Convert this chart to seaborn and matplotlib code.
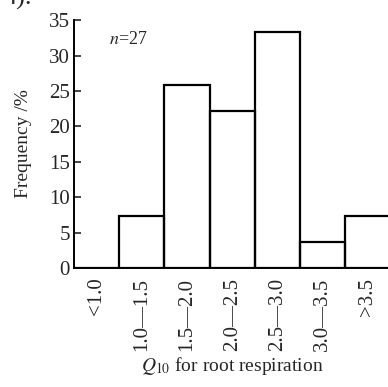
import matplotlib
matplotlib.use('Agg')
import matplotlib.pyplot as plt
import seaborn as sns
import pandas as pd

# Q10 classes and frequency (%) of n=27 observations
categories = ['<1.0', '1.0\u20141.5', '1.5\u20142.0', '2.0\u20142.5',
              '2.5\u20143.0', '3.0\u20143.5', '>3.5']
frequency = [0.0, 7.4, 25.9, 22.2, 33.3, 3.7, 7.4]
y_ticks = [0, 5, 10, 15, 20, 25, 30, 35]

sns.set_style('ticks')
plt.rcParams['font.family'] = ['Liberation Serif', 'DejaVu Serif']
plt.rcParams['mathtext.fontset'] = 'stix'

df = pd.DataFrame({'q10': categories, 'freq': frequency})

fig = plt.figure(figsize=(3.88, 3.87), dpi=100)
ax = fig.add_axes([0.191, 0.3075, 0.815, 0.6405])

sns.barplot(data=df, x='q10', y='freq', ax=ax, width=1.0, fill=False,
            color='black', linewidth=1.6, err_kws={'linewidth': 0})
for p in ax.patches:
    p.set_edgecolor('black')

ax.set_xlim(-0.5, 6.5)
ax.set_ylim(0, 35)
ax.set_yticks(y_ticks)
ax.tick_params(axis='y', direction='in', length=5, width=1.2, labelsize=15, pad=3)
ax.tick_params(axis='x', length=0, labelsize=15, pad=7)
ax.set_xticks(range(len(categories)))
ax.set_xticklabels(categories, rotation=90, va='top')

sns.despine(ax=ax, top=True, right=True)
for s in ['left', 'bottom']:
    ax.spines[s].set_linewidth(1.4)
    ax.spines[s].set_color('black')

ax.set_ylabel('Frequency /%', fontsize=14, labelpad=12)
ax.set_xlabel('$Q_{10}$ for root respiration', fontsize=14, labelpad=3)
ax.text(0.11, 0.955, '$n$=27', transform=ax.transAxes, fontsize=13,
        ha='left', va='top')

fig.text(0.01, 1.005, '4).', fontsize=19, ha='left', va='center')

fig.savefig('out.png', dpi=100)
